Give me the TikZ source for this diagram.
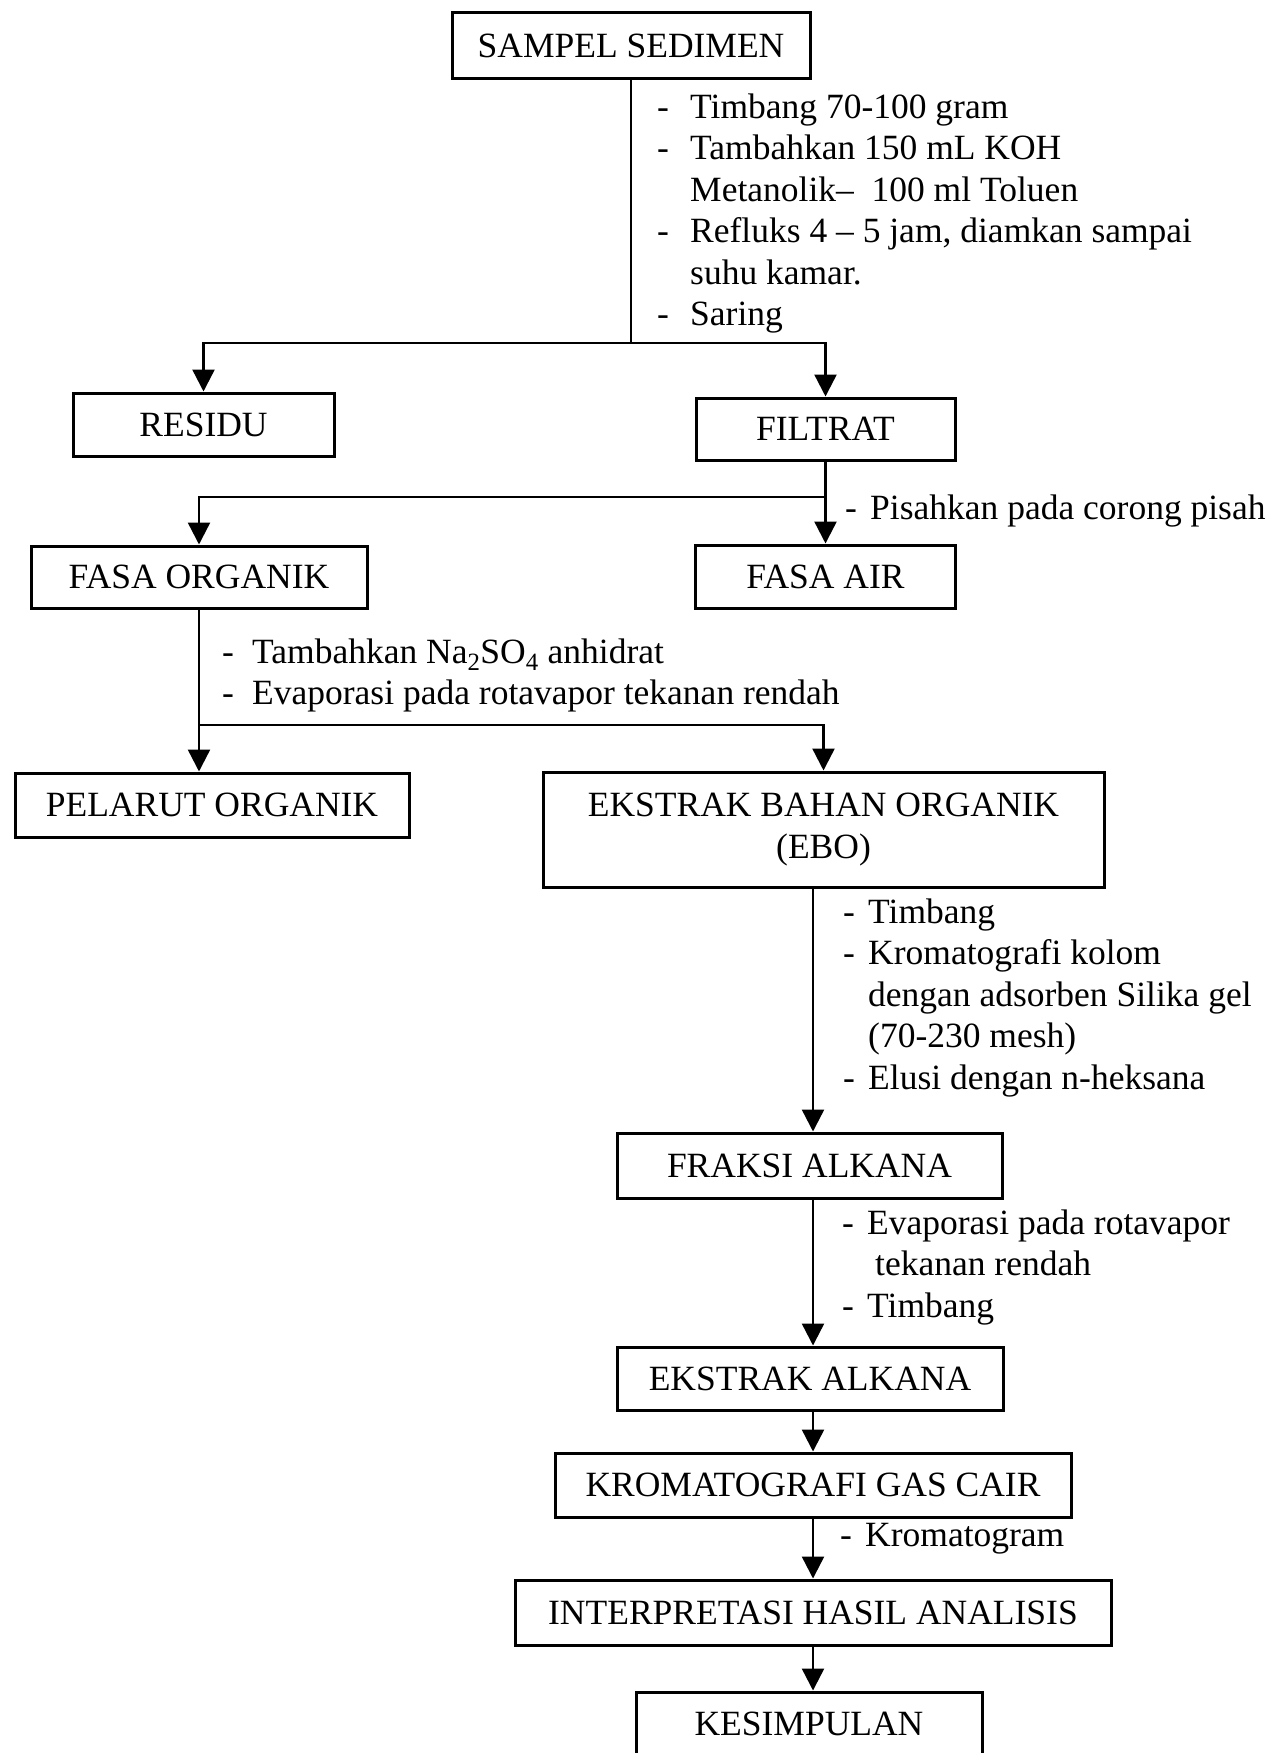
\documentclass[tikz,border=0pt]{standalone}
\usepackage{fontspec}
\setmainfont{Liberation Serif}
\usetikzlibrary{arrows.meta}
\begin{document}
\begin{tikzpicture}[x=1pt,y=-1pt,
  box/.style={draw, line width=3pt, inner sep=0pt, align=center,
    font=\fontsize{35.5}{42}\selectfont},
  conn/.style={line width=2.4pt},
  arr/.style={conn, -{Triangle[width=22pt,length=22pt]}},
  note/.style={inner sep=0pt, anchor=base west,
    font=\fontsize{35.5}{41.5}\selectfont}]
\fill[white] (0,0) rectangle (1280,1753);
\useasboundingbox (0,0) rectangle (1280,1753);
\begin{scope}
\clip (0,0) rectangle (1280,1753);
% boxes
\node[box, minimum width=358pt, minimum height=65pt] (sampel) at (631,45.5) {SAMPEL SEDIMEN};
\node[box, minimum width=261pt, minimum height=63pt] (residu) at (203.5,424.5) {RESIDU};
\node[box, minimum width=259pt, minimum height=62pt] (filtrat) at (825.5,429) {FILTRAT};
\node[box, minimum width=336pt, minimum height=62pt] (fasaorg) at (199,577) {FASA ORGANIK};
\node[box, minimum width=260pt, minimum height=63pt] (fasaair) at (825.5,576.5) {FASA AIR};
\node[box, minimum width=394pt, minimum height=64pt] (pelarut) at (212,805) {PELARUT ORGANIK};
\node[box, minimum width=561pt, minimum height=115pt] (ebo) at (823.5,829.5) {EKSTRAK BAHAN ORGANIK\\(EBO)};
\node[box, minimum width=385pt, minimum height=65pt] (fraksi) at (809.5,1165.5) {FRAKSI ALKANA};
\node[box, minimum width=386pt, minimum height=63pt] (ekstrak) at (810,1378.5) {EKSTRAK ALKANA};
\node[box, minimum width=516pt, minimum height=64pt] (kgc) at (813,1485) {KROMATOGRAFI GAS CAIR};
\node[box, minimum width=596pt, minimum height=65pt] (interp) at (813,1612.5) {INTERPRETASI HASIL ANALISIS};
\node[box, minimum width=346pt, minimum height=64pt] (kes) at (809,1724) {KESIMPULAN};
% branch points
\coordinate (s1) at (631,343);
\coordinate (s2) at (825.5,497);
\coordinate (s3) at (199,725);
\coordinate (col) at (813,0);
% connectors
\draw[conn] (sampel.south) -- (s1);
\draw[arr] (s1) -| (residu.north);
\draw[arr] (s1) -| (filtrat.north);
\draw[arr] (filtrat.south) -- (fasaair.north);
\draw[arr] (s2) -| (fasaorg.north);
\draw[arr] (fasaorg.south) -- (fasaorg.south |- pelarut.north);
\draw[arr] (s3) -| (ebo.north);
\draw[arr] (ebo.south -| col) -- (fraksi.north -| col);
\draw[arr] (fraksi.south -| col) -- (ekstrak.north -| col);
\draw[arr] (ekstrak.south -| col) -- (kgc.north -| col);
\draw[arr] (kgc.south -| col) -- (interp.north -| col);
\draw[arr] (interp.south -| col) -- (kes.north -| col);
% notes
\node[note] (n1) at (657,118) {\begin{tabular}[t]{@{}p{33pt}@{}l@{}}
-&Timbang 70-100 gram\\
-&Tambahkan 150 mL KOH\\
&Metanolik–\ \ 100 ml Toluen\\
-&Refluks 4 – 5 jam, diamkan sampai\\
&suhu kamar.\\
-&Saring
\end{tabular}};
\node[note] (n2) at (845,519) {\begin{tabular}[t]{@{}p{25pt}@{}l@{}}
-&Pisahkan pada corong pisah
\end{tabular}};
\node[note] (n3) at (222,663) {\begin{tabular}[t]{@{}p{30pt}@{}l@{}}
-&Tambahkan Na\textsubscript{2}SO\textsubscript{4} anhidrat\\
-&Evaporasi pada rotavapor tekanan rendah
\end{tabular}};
\node[note] (n4) at (843,923) {\begin{tabular}[t]{@{}p{25pt}@{}l@{}}
-&Timbang\\
-&Kromatografi kolom\\
&dengan adsorben Silika gel\\
&(70-230 mesh)\\
-&Elusi dengan n-heksana
\end{tabular}};
\node[note] (n5) at (842,1234) {\begin{tabular}[t]{@{}p{25pt}@{}l@{}}
-&Evaporasi pada rotavapor\\
&\hspace{8pt}tekanan rendah\\
-&Timbang
\end{tabular}};
\node[note] (n6) at (840,1546) {\begin{tabular}[t]{@{}p{25pt}@{}l@{}}
-&Kromatogram
\end{tabular}};
\end{scope}
\end{tikzpicture}
\end{document}
